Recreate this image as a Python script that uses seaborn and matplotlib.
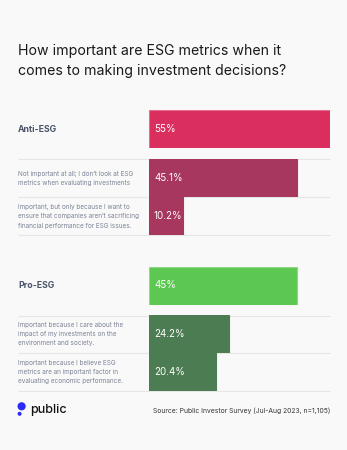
import matplotlib
matplotlib.use("Agg")
import matplotlib.pyplot as plt
from matplotlib.patches import Circle
import seaborn as sns
import pandas as pd

# ---------------- data ----------------
title = "How important are ESG metrics when it\ncomes to making investment decisions?"
groups = ["Anti-ESG", "Pro-ESG"]
group_values = [55, 45]
anti_labels = [
    "Not important at all; I don\u2019t look at ESG\nmetrics when evaluating investments",
    "Important, but only because I want to\nensure that companies aren\u2019t sacrificing\nfinancial performance for ESG issues.",
]
anti_values = [45.1, 10.2]
pro_labels = [
    "Important because I care about the\nimpact of my investments on the\nenvironment and society.",
    "Important because I believe ESG\nmetrics are an important factor in\nevaluating economic performance.",
]
pro_values = [24.2, 20.4]
source = "Source: Public Investor Survey (Jul-Aug 2023, n=1,105)"
brand = "public"

# ---------------- style ----------------
sns.set_theme(style="white")
plt.rcParams["font.family"] = ["Inter", "DejaVu Sans"]

W, H = 347, 450
BG = "#F9F9F9"
colors = {
    "Anti-ESG": ("#D92E5E", "#A8375F", "#E86A8C"),
    "Pro-ESG": ("#5CC851", "#4C7D52", "#8FDA86"),
}

fig = plt.figure(figsize=(W / 100, H / 100), dpi=100, facecolor=BG)

# overlay axes in pixel coordinates for decoration
deco = fig.add_axes([0, 0, 1, 1], facecolor="none")
deco.set_xlim(0, W)
deco.set_ylim(H, 0)
deco.axis("off")

X0, X1 = 149, 330          # bar area in pixels
LX, RX = 18, 330           # label / separator extent
XMAX = max(group_values)

def bar_axes(top, bottom):
    return fig.add_axes([X0 / W, 1 - bottom / H, (X1 - X0) / W, (bottom - top) / H])

def draw_bar(top, bottom, name, value, color, edge):
    ax = bar_axes(top, bottom)
    df = pd.DataFrame({"name": [name], "value": [value]})
    sns.barplot(data=df, x="value", y="name", orient="h", color=color,
                width=1.0, saturation=1, edgecolor=edge, linewidth=0.8, ax=ax)
    ax.set_xlim(0, XMAX)
    ax.set_ylim(0.5, -0.5)
    ax.axis("off")
    ax.patch.set_alpha(0)
    ax.annotate(f"{value:g}%", xy=(0, 0), xytext=(5, 0), textcoords="offset pixels",
                color="white", fontsize=7, va="center", ha="left")
    return ax

# title
deco.text(LX, 61, title, fontsize=10.2, color="#1A1A1A", va="center", ha="left",
          linespacing=1.5)

layout = {
    "Anti-ESG": [(110, 148), (159.3, 197.3), (197.3, 235.3)],
    "Pro-ESG": [(266.5, 304.5), (315, 353), (353, 391)],
}
sub_sets = {"Anti-ESG": (anti_labels, anti_values), "Pro-ESG": (pro_labels, pro_values)}

for g, gv in zip(groups, group_values):
    main_c, sub_c, edge_c = colors[g]
    rows = layout[g]
    t, b = rows[0]
    draw_bar(t, b, g, gv, main_c, edge_c)
    deco.text(LX, (t + b) / 2, g, fontsize=6.3, fontweight="bold", color="#4A5468",
              va="center", ha="left")
    labels, vals = sub_sets[g]
    for (t, b), lab, v in zip(rows[1:], labels, vals):
        draw_bar(t, b, lab, v, sub_c, sub_c)
        deco.text(LX, (t + b) / 2, lab, fontsize=4.6, color="#7B8396",
                  va="center", ha="left", linespacing=1.65)
    # separators
    for (t, b) in rows:
        deco.plot([LX, RX], [b + (11 if (t, b) == rows[0] else 0)] * 2,
                  color="#E6E6E6", lw=0.8, solid_capstyle="butt")

# footer: logo + source
deco.add_patch(Circle((21.6, 406.3), 4.1, color="#2B2BF7", lw=0))
deco.add_patch(Circle((19.6, 413.8), 2.0, color="#2B2BF7", lw=0))
deco.text(30, 409.5, brand, fontsize=9, fontweight="medium", color="#111111",
          va="center", ha="left")
deco.text(RX, 410.5, source, fontsize=4.85, color="#333333", va="center", ha="right")

fig.savefig("out.png", dpi=100, facecolor=BG)
